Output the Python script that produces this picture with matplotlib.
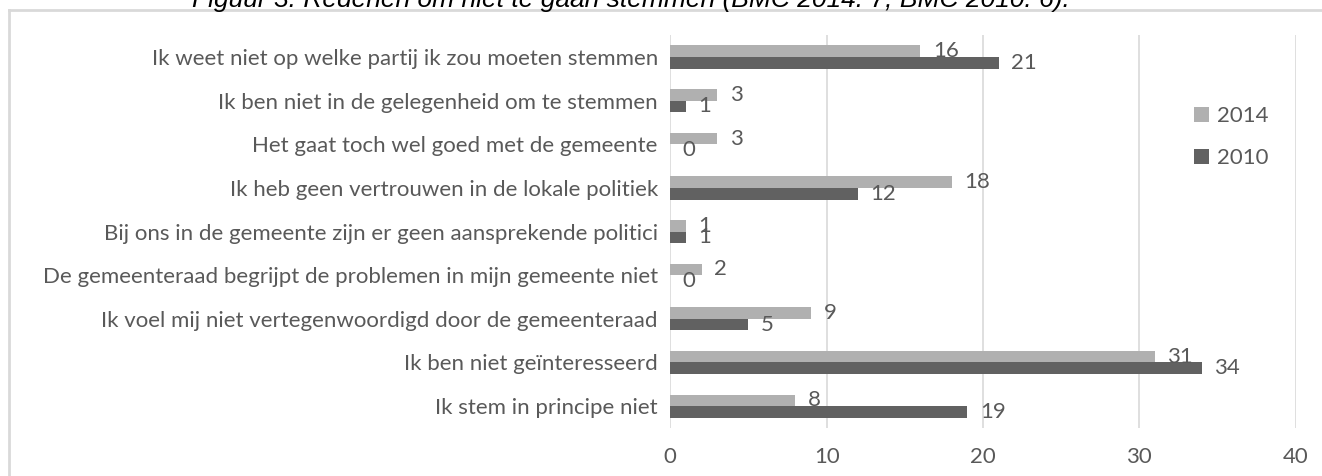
import matplotlib.pyplot as plt
import numpy as np

categories = [
    "Ik weet niet op welke partij ik zou moeten stemmen",
    "Ik ben niet in de gelegenheid om te stemmen",
    "Het gaat toch wel goed met de gemeente",
    "Ik heb geen vertrouwen in de lokale politiek",
    "Bij ons in de gemeente zijn er geen aansprekende politici",
    "De gemeenteraad begrijpt de problemen in mijn gemeente niet",
    "Ik voel mij niet vertegenwoordigd door de gemeenteraad",
    "Ik ben niet geïnteresseerd",
    "Ik stem in principe niet",
]
values_2014 = [16, 3, 3, 18, 1, 2, 9, 31, 8]
values_2010 = [21, 1, 0, 12, 1, 0, 5, 34, 19]
xticks = [0, 10, 20, 30, 40]

txt = '#595959'
font = ['Lato', 'DejaVu Sans']
fs = 16

fig = plt.figure(figsize=(13.22, 4.76), dpi=100)
ax = fig.add_axes([0.507, 0.101, 0.473, 0.825])

y = np.arange(len(categories))
h = 0.265
b1 = ax.barh(y - h / 2, values_2014, height=h, color='#B0B0B0', label='2014')
b2 = ax.barh(y + h / 2, values_2010, height=h, color='#616161', label='2010')

for bars in (b1, b2):
    for rect in bars:
        ax.annotate(f"{rect.get_width():g}",
                    (rect.get_width(), rect.get_y() + rect.get_height() / 2),
                    xytext=(9, 0), textcoords='offset points',
                    ha='left', va='center', fontsize=fs, color=txt, family=font)

ax.set_ylim(len(categories) - 0.5, -0.5)
ax.set_xlim(0, 40)
ax.set_xticks(xticks)
ax.set_yticks(y)
ax.set_yticklabels(categories)
ax.tick_params(length=0)
ax.tick_params(axis='x', pad=14)
ax.tick_params(axis='y', pad=9)
for lab in ax.get_xticklabels() + ax.get_yticklabels():
    lab.set_family(font)
    lab.set_fontsize(fs)
    lab.set_color(txt)

ax.grid(axis='x', color='#D9D9D9', linewidth=1.2)
ax.set_axisbelow(True)
for s in ax.spines.values():
    s.set_visible(False)

leg = ax.legend(loc='upper left', bbox_to_anchor=(0.805, 0.87), frameon=False,
                handlelength=0.7, handleheight=0.7, handletextpad=0.35,
                labelspacing=1.0, prop={'family': font, 'size': fs})
for t in leg.get_texts():
    t.set_color(txt)

# border around the chart area
fig.add_artist(plt.Line2D([0.0068, 0.0068], [0, 0.978], color='#D9D9D9', linewidth=2,
                          transform=fig.transFigure))
fig.add_artist(plt.Line2D([0.0068, 1], [0.978, 0.978], color='#D9D9D9', linewidth=2,
                          transform=fig.transFigure))

fig.text(0.477, 0.985, "Figuur 3: Redenen om niet te gaan stemmen (BMC 2014: 7; BMC 2010: 6).",
         ha='center', va='baseline', fontsize=19, style='italic', color='#000000',
         family=['Liberation Sans', 'DejaVu Sans'])

fig.savefig('out.png', dpi=100)
